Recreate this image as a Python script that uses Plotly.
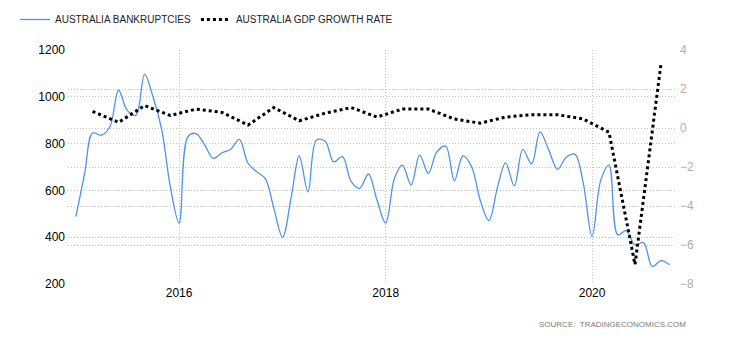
import plotly.graph_objects as go
import pandas as pd

# --- data ---
bk_dates = pd.date_range("2015-01-01", "2020-10-01", freq="MS")
bankruptcies = [
    488, 673, 845, 836, 871, 1028, 943, 921, 1096, 999, 857, 616,
    460, 829, 843, 793, 737, 761, 775, 818, 716, 680, 650, 524,
    400, 573, 747, 594, 815, 810, 722, 744, 637, 609, 670, 559,
    460, 652, 708, 623, 751, 673, 765, 789, 641, 747, 701, 559,
    471, 616, 718, 619, 775, 713, 850, 772, 690, 741, 755, 630,
    403, 644, 708, 410, 428, 367, 377, 275, 300, 282,
]
gdp_dates = pd.date_range("2015-03-01", "2020-09-01", freq="3MS")
gdp_growth = [
    0.85, 0.29, 1.15, 0.64, 0.97, 0.8, 0.15, 1.05,
    0.37, 0.76, 1.05, 0.56, 0.97, 0.97, 0.46, 0.25,
    0.56, 0.68, 0.68, 0.46, -0.22, -7.0, 3.3,
]
left_ticks = [200, 400, 600, 800, 1000, 1200]
right_ticks = [-8, -6, -4, -2, 0, 2, 4]
x_ticks = ["2016-01-01", "2018-01-01", "2020-01-01"]
x_labels = ["2016", "2018", "2020"]

FONT = "Liberation Sans, Arial, sans-serif"
GRID = "#c4c4c4"
GDASH = "1px,2px"

fig = go.Figure()
fig.add_trace(go.Scatter(
    x=bk_dates, y=bankruptcies, name="AUSTRALIA BANKRUPTCIES",
    mode="lines", line=dict(color="#4d93ea", width=1.3, shape="spline", smoothing=1.0),
    yaxis="y",
))
fig.add_trace(go.Scatter(
    x=gdp_dates, y=gdp_growth, name="AUSTRALIA GDP GROWTH RATE",
    mode="lines", line=dict(color="#000000", width=3, dash="dot"),
    yaxis="y2",
))

fig.update_layout(
    width=730, height=340,
    margin=dict(l=68, r=54, t=50, b=56, autoexpand=False),
    paper_bgcolor="white", plot_bgcolor="white",
    font=dict(family=FONT, size=11, color="#000"),
    showlegend=True,
    legend=dict(
        orientation="h", x=15 / 730, xref="container", y=1 - 5 / 340, yref="container",
        xanchor="left", yanchor="top", font=dict(size=10, color="#222"),
        itemwidth=30, bgcolor="rgba(0,0,0,0)", tracegroupgap=0,
    ),
    xaxis=dict(
        type="date", range=["2014-12-04", "2020-10-24"],
        tickvals=x_ticks, ticktext=x_labels, ticks="",
        showgrid=True, gridcolor=GRID, griddash=GDASH, gridwidth=1,
        zeroline=False, showline=False, tickfont=dict(size=12, color="#000"),
    ),
    yaxis=dict(
        range=[200, 1200], tickvals=left_ticks, ticks="",
        showgrid=True, gridcolor=GRID, griddash=GDASH, gridwidth=1,
        zeroline=False, showline=False, tickfont=dict(size=12, color="#000"),
        ticklabelstandoff=2,
    ),
    yaxis2=dict(
        range=[-8, 4], tickvals=right_ticks, overlaying="y", side="right", ticks="",
        showgrid=True, gridcolor=GRID, griddash=GDASH, gridwidth=1,
        zeroline=False, showline=False, tickfont=dict(size=12, color="#b9aba3"),
        ticklabelstandoff=3,
    ),
    annotations=[dict(
        text="SOURCE:  TRADINGECONOMICS.COM", xref="paper", yref="paper",
        x=1.0 + 12 / 608, y=0, yshift=-40, xanchor="right", yanchor="middle",
        showarrow=False, font=dict(size=8, color="#7a7a7a", family=FONT),
    )],
)

fig.write_html("out.html")
